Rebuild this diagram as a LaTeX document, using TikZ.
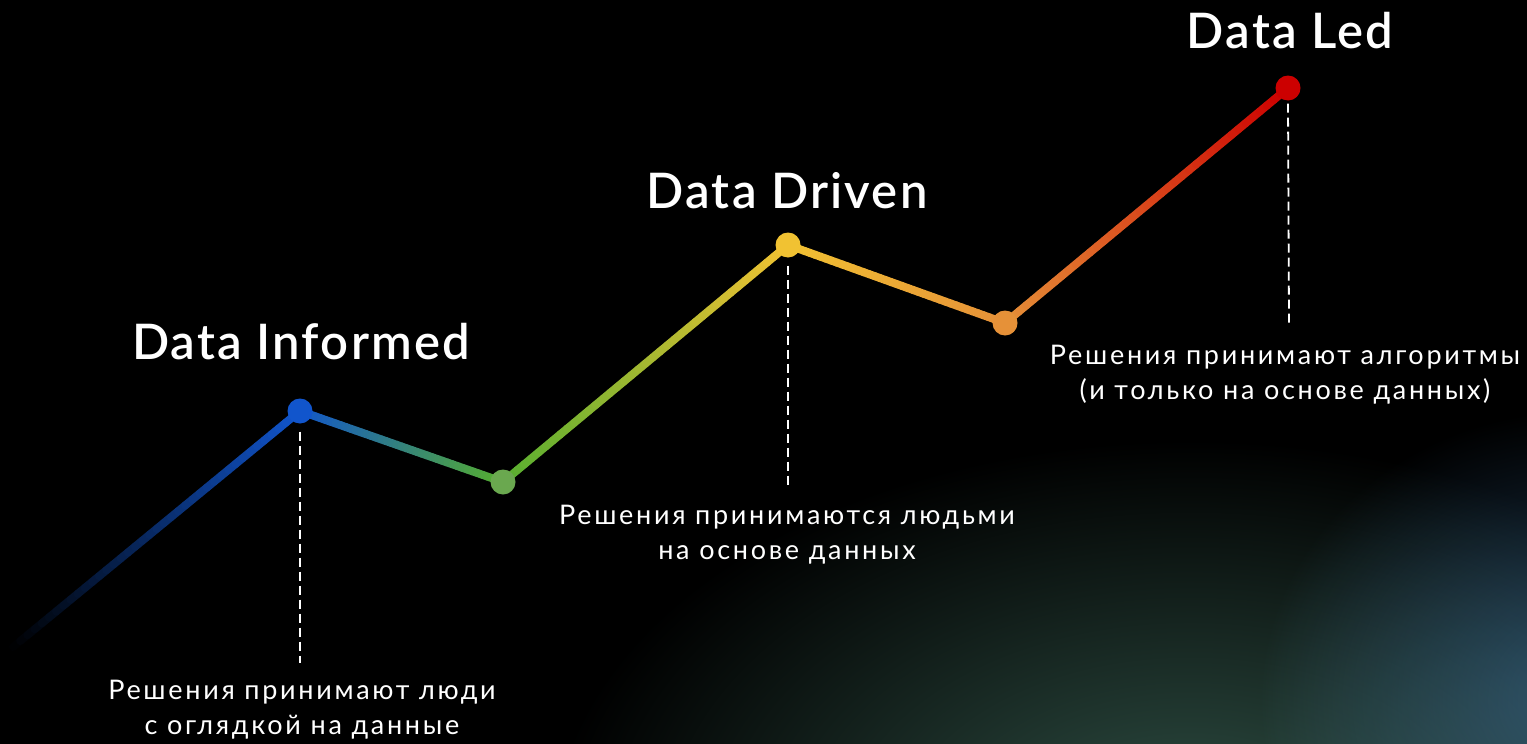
\documentclass[tikz,border=0pt]{standalone}
\usepackage{fontspec}
\setmainfont{Lato}
\newfontfamily\titlefont[LetterSpace=4.5]{Lato Semibold}
\newfontfamily\bodyfont[LetterSpace=10]{Lato}
\usetikzlibrary{calc}
\definecolor{cblue}{HTML}{1155CC}
\definecolor{cgreen}{HTML}{6AA84F}
\definecolor{lgreen}{HTML}{55AE30}
\definecolor{cyellow}{HTML}{F1C232}
\definecolor{corange}{HTML}{E69138}
\definecolor{cred}{HTML}{CC0000}
\definecolor{glowg}{HTML}{2F5045}
\definecolor{glowb}{HTML}{21405C}
\begin{document}
\begin{tikzpicture}[x=1pt,y=-1pt,
  dot/.style={circle,inner sep=0pt,minimum size=25pt},
  seg/.style={line width=8pt,line cap=round},
  dashline/.style={draw=white,line width=1.8pt,dash pattern=on 9pt off 5pt},
  title/.style={text=white,font={\titlefont\fontsize{49}{55}\selectfont},inner sep=0pt,anchor=base},
  body/.style={text=white,font={\bodyfont\fontsize{27}{35}\selectfont},inner sep=0pt,align=center,anchor=base}]
\useasboundingbox (0,0) rectangle (1527,744);
\fill[black] (0,0) rectangle (1527,744);
\begin{scope}
\clip (0,0) rectangle (1527,744);
\begin{scope}[blend mode=screen]
\shade[inner color=glowg,outer color=black] (1190,840) ellipse [x radius=640, y radius=400];
\shade[inner color=glowb,outer color=black] (1580,700) ellipse [x radius=320, y radius=290];
\end{scope}
\end{scope}
\coordinate (s) at (13,647);
\node[dot] (d1) at (300,411) {};
\node[dot] (d2) at (503,482) {};
\node[dot] (d3) at (788,245) {};
\node[dot] (d4) at (1005,323) {};
\node[dot] (d5) at (1288,88) {};
\foreach \a/\b/\ca/\cb in {s/d1/black/cblue, d1/d2/cblue/lgreen, d2/d3/lgreen/cyellow, d3/d4/cyellow/corange, d4/d5/corange/cred}{
  \foreach \i in {0,...,39}{
    \pgfmathsetmacro\t{\i/40}
    \pgfmathsetmacro\u{(\i+1)/40}
    \pgfmathsetmacro\p{100*(\i+0.5)/40}
    \draw[seg,color=\cb!\p!\ca] ($(\a)!\t!(\b)$) -- ($(\a)!\u!(\b)$);
  }
}
\fill[cblue] (d1) circle (12.5);
\fill[cgreen] (d2) circle (12.5);
\fill[cyellow] (d3) circle (12.5);
\fill[corange] (d4) circle (12.5);
\fill[cred] (d5) circle (12.5);
\coordinate (e1) at (300,663);
\coordinate (e3) at (788,485);
\coordinate (e5) at (1289,324);
\draw[dashline] ($(d1.south)+(0,8)$) -- (e1);
\draw[dashline] ($(d3.south)+(0,8)$) -- (e3);
\draw[dashline] ($(d5.south)+(0,3)$) -- (e5);
\node[title] (t1) at (301,359) {Data Informed};
\node[title] (t3) at (787,208) {Data Driven};
\node[title] (t5) at (1290,48) {Data Led};
\node[body] (b1) at (302,734) {Решения принимают люди\\с оглядкой на данные};
\node[body] (b3) at (787,559) {Решения принимаются людьми\\на основе данных};
\node[body] (b5) at (1285,399) {Решения принимают алгоритмы\\(и только на основе данных)};
\end{tikzpicture}
\end{document}
